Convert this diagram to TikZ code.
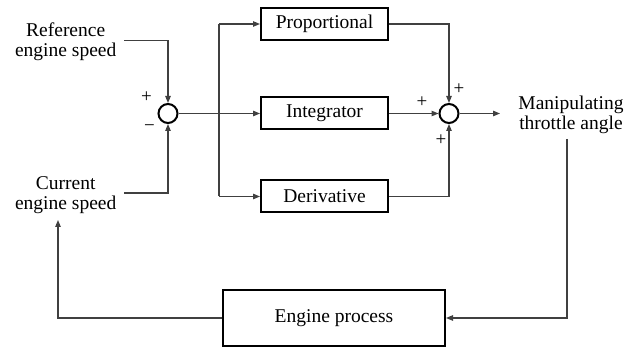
\documentclass[tikz,border=0pt]{standalone}
\usepackage{fontspec}
\setmainfont{Liberation Serif}
\usetikzlibrary{arrows.meta}
\begin{document}
\begin{tikzpicture}[x=1pt,y=-1pt,
  conn/.style={line width=1.1pt, draw=black!75, -{Triangle[length=7pt,width=5.5pt]}},
  plain/.style={line width=1.1pt, draw=black!75},
  blockbox/.style={draw, line width=2pt, minimum width=127pt, minimum height=32pt, inner sep=0pt, font=\fontsize{19.5}{20}\selectfont},
  sumnode/.style={circle, draw, line width=2pt, minimum size=19pt, inner sep=0pt},
  lbl/.style={align=center, inner sep=0pt, font=\fontsize{19.5}{20}\selectfont},
  sign/.style={inner sep=0pt, font=\fontsize{19}{19}\selectfont}]
\useasboundingbox (0,0) rectangle (643,352);

\node[sumnode] (s1) at (168,113.5) {};
\node[sumnode] (s2) at (449,113.5) {};
\node[blockbox] (P) at (324.5,24) {Proportional};
\node[blockbox] (I) at (324.5,113.5) {Integrator};
\node[blockbox] (D) at (324.5,196.5) {Derivative};
\node[blockbox, minimum width=222pt, minimum height=56pt] (E) at (334,318) {Engine process};

\node[lbl] (ref) at (65.7,42.2) {Reference\\engine speed};
\node[lbl] (cur) at (65.7,195.4) {Current\\engine speed};
\node[lbl] (out) at (571,115.3) {Manipulating\\throttle angle};

\coordinate (refend) at (124,40.7);
\coordinate (curend) at (124,193);
\coordinate (br) at (219,113.5);
\coordinate (outtip) at (500,113.5);
\coordinate (fbtop) at (567,139);
\coordinate (fbtip) at (58,220);

\draw[conn] (refend) -| (s1.north);
\draw[conn] (curend) -| (s1.south);
\draw[plain, line width=1.6pt] (s1.east) -- (br);
\draw[plain] (br |- P.west) -- (br |- D.west);
\draw[conn] (br |- P.west) -- (P.west);
\draw[conn] (br) -- (I.west);
\draw[conn] (br |- D.west) -- (D.west);
\draw[conn] (P.east) -| (s2.north);
\draw[conn] (I.east) -- (s2.west);
\draw[conn] (D.east) -| (s2.south);
\draw[conn] (s2.east) -- (outtip);
\draw[conn] (fbtop) |- (E.east);
\draw[conn] (E.west) -| (fbtip);

\node[sign] (p1) at (146.5,97) {+};
\node[sign] (m1) at (149.5,128) {−};
\node[sign] (p2) at (459,89) {+};
\node[sign] (p3) at (422,102) {+};
\node[sign] (p4) at (441,140) {+};
\end{tikzpicture}
\end{document}
